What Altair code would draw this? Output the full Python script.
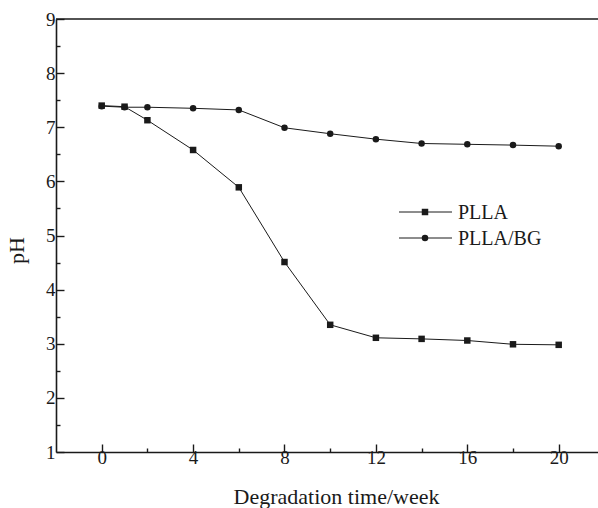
import altair as alt
import pandas as pd

weeks = [0, 1, 2, 4, 6, 8, 10, 12, 14, 16, 18, 20]
ph_plla = [7.40, 7.38, 7.13, 6.58, 5.89, 4.51, 3.35, 3.11, 3.09, 3.06, 2.99, 2.98]
ph_bg = [7.39, 7.37, 7.37, 7.35, 7.32, 6.99, 6.88, 6.78, 6.70, 6.685, 6.67, 6.65]
series = ["PLLA", "PLLA/BG"]
x_major = [0, 4, 8, 12, 16, 20]
x_minor = [2, 6, 10, 14, 18]
y_major = [1, 2, 3, 4, 5, 6, 7, 8, 9]
y_minor = [1.5, 2.5, 3.5, 4.5, 5.5, 6.5, 7.5, 8.5]

rows = []
for s, vals in zip(series, [ph_plla, ph_bg]):
    for w, v in zip(weeks, vals):
        rows.append({"week": w, "pH": v, "series": s})
df = pd.DataFrame(rows)

W, H = 542, 433
FONT = "Liberation Serif"
INK = "#1a1a1a"

xscale = alt.Scale(domain=[-2, 21.72], nice=False, zero=False)
yscale = alt.Scale(domain=[1, 9], nice=False, zero=False)
shape_scale = alt.Scale(domain=series, range=["square", "circle"])

base = alt.Chart(df)

lines = base.mark_line(color=INK, strokeWidth=1).encode(
    x=alt.X("week:Q", scale=xscale,
            axis=alt.Axis(orient="bottom", values=x_major, tickSize=alt.ExprRef(expr="-8"),
                          labelPadding=4, title="Degradation time/week",
                          titleFontSize=22, titleFont=FONT, titleFontWeight="normal",
                          titleColor=INK, titleX=280, titleY=51,
                          titleBaseline="alphabetic", titleAlign="center")),
    y=alt.Y("pH:Q", scale=yscale,
            axis=alt.Axis(orient="left", values=y_major, tickSize=alt.ExprRef(expr="-8"),
                          labelPadding=9, title="pH",
                          titleFontSize=22, titleFont=FONT, titleFontWeight="normal",
                          titleColor=INK, titleX=-33, titleY=231, titleAngle=270,
                          titleBaseline="alphabetic", titleAlign="center")),
    detail="series:N",
)

points = base.mark_point(filled=True, color=INK, size=42, opacity=1).encode(
    x=alt.X("week:Q", scale=xscale,
            axis=alt.Axis(orient="bottom", values=x_minor, tickSize=alt.ExprRef(expr="-4"),
                          labels=False, domain=False, title=None)),
    y=alt.Y("pH:Q", scale=yscale,
            axis=alt.Axis(orient="left", values=y_minor, tickSize=alt.ExprRef(expr="-4"),
                          labels=False, domain=False, title=None)),
    shape=alt.Shape("series:N", scale=shape_scale, legend=None),
    order=alt.Order("series:N", sort="ascending"),
)

top_border = alt.Chart(pd.DataFrame({"a": [0]})).mark_rule(color=INK, strokeWidth=1.5).encode(
    x=alt.value(0), x2=alt.value(W + 5), y=alt.value(0)
)

legend_layers = []
for i, (s, shp) in enumerate(zip(series, ["square", "circle"])):
    ypos = 193 + i * 26
    d = pd.DataFrame({"series": [s]})
    legend_layers.append(
        alt.Chart(d).mark_rule(color=INK, strokeWidth=1).encode(
            x=alt.value(343), x2=alt.value(396), y=alt.value(ypos)))
    legend_layers.append(
        alt.Chart(d).mark_point(filled=True, color=INK, size=42, opacity=1, shape=shp).encode(
            x=alt.value(369), y=alt.value(ypos)))
    legend_layers.append(
        alt.Chart(d).mark_text(font=FONT, fontSize=20, color=INK, align="left",
                               baseline="middle", dy=1).encode(
            x=alt.value(402), y=alt.value(ypos), text="series:N"))

chart = alt.layer(lines, points, top_border, *legend_layers).resolve_axis(
    x="independent", y="independent"
).properties(
    width=W, height=H,
    background="white",
    autosize=alt.AutoSizeParams(type="none"),
    padding={"left": 56, "top": 19, "right": 0, "bottom": 56},
).configure_view(stroke=None).configure_axis(
    grid=False,
    domainColor=INK, domainWidth=1.6,
    tickColor=INK, tickWidth=1.4,
    labelFont=FONT, labelFontSize=19, labelColor=INK,
)

chart.save("out.html", embed_options={"renderer": "svg", "actions": False})
